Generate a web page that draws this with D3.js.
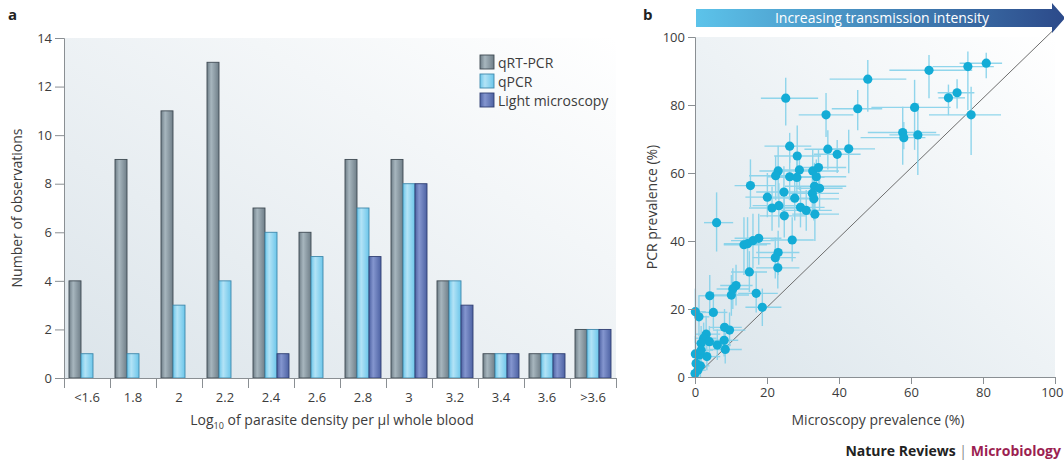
<!DOCTYPE html>
<html>
<head>
<meta charset="utf-8">
<script src="https://cdn.jsdelivr.net/npm/d3@7"></script>
<style>
  body { margin: 0; background: #fff; }
  svg { font-family: "Open Sans", "Noto Sans", sans-serif; }
</style>
</head>
<body>
<svg id="chart" width="1064" height="463"></svg>
<script>
// panel a: counts per parasite density class
const categories = ["<1.6", "1.8", "2", "2.2", "2.4", "2.6", "2.8", "3", "3.2", "3.4", "3.6", ">3.6"];
const qrtpcr = [4, 9, 11, 13, 7, 6, 9, 9, 4, 1, 1, 2];
const qpcr = [1, 1, 3, 4, 6, 5, 7, 8, 4, 1, 1, 2];
const lightMicroscopy = [0, 0, 0, 0, 1, 0, 5, 8, 3, 1, 1, 2];
const seriesNames = ["qRT-PCR", "qPCR", "Light microscopy"];
const countTicks = [0, 2, 4, 6, 8, 10, 12, 14];

// panel b: microscopy vs PCR prevalence (%) with ranges
const microPrev = [25.2,36.4,45.2,48.0,61.0,65.0,70.4,72.8,75.8,80.9,76.7,57.7,58.0,61.9,
  26.3,36.9,39.5,42.7,28.4,29.0,23.1,22.4,26.3,28.3,32.7,34.3,33.7,15.4,20.1,24.7,27.7,33.2,34.6,32.6,33.0,21.4,23.3,29.3,30.9,24.8,33.3,6.0,
  13.6,14.6,16.1,17.7,27.0,23.1,22.3,23.0,15.1,11.4,10.5,10.1,17.0,18.7,4.1,5.1,0.1,1.1,8.2,9.6,3.1,2.4,4.0,1.7,6.2,8.1,8.4,3.3,0.1,1.2,1.7,0.3,1.5,0.0,0.8];
const pcrPrev = [82.0,77.1,78.9,87.6,79.3,90.2,82.1,83.6,91.3,92.3,77.1,71.9,70.4,71.2,
  67.9,67.0,65.5,67.1,65.0,60.9,60.6,59.2,58.9,58.7,60.6,61.6,58.9,56.3,52.9,54.4,52.6,56.1,55.5,54.0,52.4,49.7,50.4,49.9,49.0,47.4,47.9,45.4,
  38.9,39.2,40.1,40.8,40.3,36.6,35.1,32.1,30.9,26.9,25.9,24.1,24.6,20.5,23.9,19.0,19.2,17.7,14.6,13.8,12.6,11.4,10.4,9.9,9.4,10.8,8.1,6.0,6.8,6.5,7.9,4.0,3.3,1.0,2.0];
const microLo = [18.3,28.8,38,37.4,49,54,67.6,67.4,66,73.5,65,48,46,54,
  19.3,30.4,33,38,22,22,17.9,15,20,22,27,28,27,11,14,17,21,25,28,26,26,15,16,23,24,18,27,2.5,
  8,8,10,11,21,17,16,17,10,7,6,5,12,14,1,2,0,0,4,5,0,0,1,0,3,4,4,0,0,0,0,0,0,0,0];
const microHi = [34.2,44,52,58.7,71,77,75,77.6,83,85.3,85,67,64,68,
  32.3,43.7,46,50,35,35,27,28,33,36,40,42,42,22.4,27,32,34,42,41,40,40,28,30,36,38,31,40,10.6,
  20,21,22,24,33,29,28,29,20,16,15,15,23,24,9,9,3,4,13,14,7,6,8,5,10,12,13,7,3,4,5,2,4,1,3];
const pcrLo = [74,70.6,72.6,78,66.8,82,77,79,78.5,87.9,65.3,62.4,67,59.4,
  63,61,60,59.9,58,55,53,52,52,52,55,55,53,50,47,48,46,50,49,48,46,43,44,44,43,41,40,36.9,
  30,31,32,33,34,30,29,26,25,21,20,18,19,15,18,14,10,12,10,9,8,7,6,5,5,6,4,2,2,2,3,0,0,0,0];
const pcrHi = [88,83.5,84.4,93.2,87.4,94.7,86,87.6,95.7,95.4,85.4,79.5,75,80.6,
  71.8,72.6,69.7,72.7,74,66,68,65,65,66,67,67,64,64,60,62,59,63,62,61,59,56,57,56,55,54,55,54.3,
  47,47,48,48,47,43,41,38,37,33,32,30,31,26,30,25,26,24,20,19,18,16,15,15,14,15,13,10,12,11,12,8,7,4,5];
const prevTicks = [0, 20, 40, 60, 80, 100];

const svg = d3.select("#chart");
const defs = svg.append("defs");

function bgGrad(id, from, to) {
  const g = defs.append("linearGradient").attr("id", id)
    .attr("x1", 0).attr("y1", 1).attr("x2", 1).attr("y2", 0);
  g.append("stop").attr("offset", "0%").attr("stop-color", from);
  g.append("stop").attr("offset", "100%").attr("stop-color", to);
}
bgGrad("bgA", "#dbe4ea", "#ffffff");
bgGrad("bgB", "#dbe5eb", "#ffffff");

function barGrad(id, edge, mid) {
  const g = defs.append("linearGradient").attr("id", id)
    .attr("x1", 0).attr("y1", 0).attr("x2", 1).attr("y2", 0);
  g.append("stop").attr("offset", "0%").attr("stop-color", edge);
  g.append("stop").attr("offset", "35%").attr("stop-color", mid);
  g.append("stop").attr("offset", "100%").attr("stop-color", edge);
}
barGrad("gGrey", "#6f7e88", "#a7b6be");
barGrad("gLight", "#6cc6ea", "#b3e3f6");
barGrad("gDark", "#4d62a3", "#8496cf");

const arrowGrad = defs.append("linearGradient").attr("id", "gArrow")
  .attr("x1", 0).attr("y1", 0).attr("x2", 1).attr("y2", 0);
arrowGrad.append("stop").attr("offset", "0%").attr("stop-color", "#5cc3ea");
arrowGrad.append("stop").attr("offset", "100%").attr("stop-color", "#2c4a8a");

const axisColor = "#8a8f93";
const labelColor = "#3c3c3c";

// ---------- panel a ----------
const ax0 = 64, ax1 = 616, ay0 = 378, ay1 = 38;
const x0 = d3.scaleBand().domain(categories).range([ax0, ax1]);
const yA = d3.scaleLinear().domain([0, 14]).range([ay0, ay1]);
const barW = 12;
const fills = ["url(#gGrey)", "url(#gLight)", "url(#gDark)"];
const strokes = ["#3f4a53", "#3f88ab", "#2f3e72"];
const xs = d3.scaleBand().domain(seriesNames).range([0, barW * 3]);

svg.append("rect").attr("x", ax0).attr("y", ay1).attr("width", ax1 - ax0).attr("height", ay0 - ay1)
  .attr("fill", "url(#bgA)");

const rows = categories.map((c, i) => ({ c, vals: [qrtpcr[i], qpcr[i], lightMicroscopy[i]] }));
const groups = svg.append("g").selectAll("g").data(rows).enter().append("g")
  .attr("transform", d => `translate(${x0(d.c) + (x0.bandwidth() - barW * 3) / 2},0)`);
groups.selectAll("rect")
  .data(d => d.vals.map((v, k) => ({ v, k })).filter(e => e.v > 0))
  .enter().append("rect")
  .attr("x", e => xs(seriesNames[e.k]))
  .attr("y", e => yA(e.v))
  .attr("width", barW)
  .attr("height", e => yA(0) - yA(e.v))
  .attr("fill", e => fills[e.k])
  .attr("stroke", e => strokes[e.k])
  .attr("stroke-width", 0.9);

svg.append("g").attr("transform", `translate(${ax0},0)`)
  .call(d3.axisLeft(yA).tickValues(countTicks).tickSize(9).tickPadding(3));
svg.append("g").attr("transform", `translate(0,${ay0})`)
  .call(d3.axisBottom(d3.scaleLinear().domain([0, 12]).range([ax0, ax1]))
    .tickValues(d3.range(13)).tickSize(10).tickFormat(""));
svg.append("g").selectAll("text").data(categories).enter().append("text")
  .attr("x", d => x0(d) + x0.bandwidth() / 2)
  .attr("y", ay0 + 24)
  .attr("text-anchor", "middle")
  .attr("font-size", 13)
  .attr("fill", labelColor)
  .text(d => d);

svg.append("text").attr("transform", `translate(22,${(ay0 + ay1) / 2}) rotate(-90)`)
  .attr("text-anchor", "middle").attr("font-size", 14).attr("fill", labelColor)
  .text("Number of observations");
const xt = svg.append("text").attr("x", 332).attr("y", 425).attr("text-anchor", "middle")
  .attr("font-size", 14).attr("fill", labelColor);
xt.append("tspan").text("Log");
xt.append("tspan").attr("font-size", 9).attr("dy", 4).text("10");
xt.append("tspan").attr("dy", -4).text(" of parasite density per \u00b5l whole blood");

// legend
const legend = svg.append("g").attr("transform", "translate(480,55)");
seriesNames.forEach((name, k) => {
  legend.append("rect").attr("x", 0).attr("y", k * 19).attr("width", 14).attr("height", 14)
    .attr("fill", fills[k]).attr("stroke", strokes[k]).attr("stroke-width", 0.9);
  legend.append("text").attr("x", 18).attr("y", k * 19 + 12.5).attr("font-size", 14)
    .attr("fill", labelColor).text(name);
});

svg.append("text").attr("x", 8).attr("y", 20).attr("font-size", 15).attr("font-weight", "bold")
  .attr("fill", "#222").text("a");

// ---------- panel b ----------
const bx0 = 695, bx1 = 1055, by0 = 377, by1 = 37;
const xB = d3.scaleLinear().domain([0, 100]).range([bx0, bx1]);
const yB = d3.scaleLinear().domain([0, 100]).range([by0, by1]);

svg.append("rect").attr("x", bx0).attr("y", by1).attr("width", bx1 - bx0).attr("height", by0 - by1)
  .attr("fill", "url(#bgB)");

svg.append("line").attr("x1", xB(0)).attr("y1", yB(0)).attr("x2", xB(100)).attr("y2", yB(102.5))
  .attr("stroke", "#6d6d6d").attr("stroke-width", 1);

const pts = microPrev.map((m, i) => ({
  x: m, y: pcrPrev[i], xl: microLo[i], xh: microHi[i], yl: pcrLo[i], yh: pcrHi[i]
}));
const eb = svg.append("g").attr("stroke", "#7fd0ea").attr("stroke-width", 1.4).attr("opacity", 0.85);
eb.selectAll(".h").data(pts).enter().append("line")
  .attr("x1", d => xB(d.xl)).attr("x2", d => xB(d.xh))
  .attr("y1", d => yB(d.y)).attr("y2", d => yB(d.y));
eb.selectAll(".v").data(pts).enter().append("line")
  .attr("x1", d => xB(d.x)).attr("x2", d => xB(d.x))
  .attr("y1", d => yB(d.yl)).attr("y2", d => yB(d.yh));
svg.append("g").selectAll("circle").data(pts).enter().append("circle")
  .attr("cx", d => xB(d.x)).attr("cy", d => yB(d.y)).attr("r", 4.6)
  .attr("fill", "#14acd6");

svg.append("g").attr("transform", `translate(${bx0},0)`)
  .call(d3.axisLeft(yB).tickValues(prevTicks).tickSize(7).tickPadding(3));
const xAxisB = svg.append("g").attr("transform", `translate(0,${by0})`)
  .call(d3.axisBottom(xB).tickValues(prevTicks).tickSize(7).tickPadding(4));
// keep the last label inside the page
xAxisB.selectAll(".tick text").filter(d => d === 100).attr("text-anchor", "end").attr("dx", 8);

svg.append("text").attr("transform", `translate(657,${(by0 + by1) / 2}) rotate(-90)`)
  .attr("text-anchor", "middle").attr("font-size", 14).attr("fill", labelColor)
  .text("PCR prevalence (%)");
svg.append("text").attr("x", 878).attr("y", 425).attr("text-anchor", "middle")
  .attr("font-size", 14).attr("fill", labelColor).text("Microscopy prevalence (%)");

// arrow banner
svg.append("path")
  .attr("d", "M696,9 L1052,9 L1052,3 L1065,18 L1052,33 L1052,27 L696,27 Z")
  .attr("fill", "url(#gArrow)");
svg.append("text").attr("x", 882).attr("y", 23).attr("text-anchor", "middle")
  .attr("font-size", 14).attr("fill", "#ffffff").text("Increasing transmission intensity");

svg.append("text").attr("x", 643).attr("y", 20).attr("font-size", 15).attr("font-weight", "bold")
  .attr("fill", "#222").text("b");

// axis styling
svg.selectAll(".domain").attr("stroke", axisColor);
svg.selectAll(".tick line").attr("stroke", axisColor);
svg.selectAll(".tick text").attr("font-size", 13).attr("fill", labelColor)
  .attr("font-family", "\"Open Sans\", \"Noto Sans\", sans-serif");

// footer
const foot = svg.append("text").attr("x", 1061).attr("y", 456).attr("text-anchor", "end")
  .attr("font-size", 14).attr("font-weight", "bold");
foot.append("tspan").attr("fill", "#222").text("Nature Reviews ");
foot.append("tspan").attr("fill", "#888").attr("font-weight", "normal").text("| ");
foot.append("tspan").attr("fill", "#9c1f52").text("Microbiology");
</script>
</body>
</html>
